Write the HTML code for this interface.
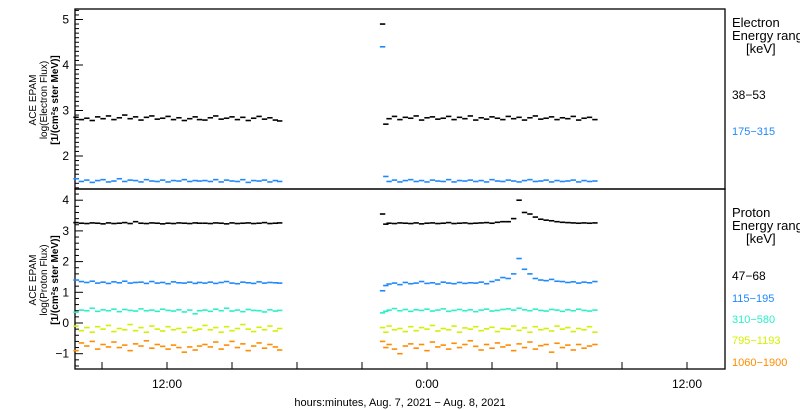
<!DOCTYPE html>
<html><head><meta charset="utf-8"><style>
body{margin:0;background:#fff;width:800px;height:410px;overflow:hidden}
svg{display:block;font-family:"Liberation Sans",sans-serif}
</style></head><body>
<svg id="chart" width="800" height="410"></svg>
<script>
const times=[7.8,8.05,8.3,8.55,8.8,9.05,9.3,9.55,9.8,10.05,10.3,10.55,10.8,11.05,11.3,11.55,11.8,12.05,12.3,12.55,12.8,13.05,13.3,13.5,
13.75,14,14.25,14.5,14.75,15,15.25,15.5,15.75,16,16.25,16.5,16.75,17,17.2,
21.95,22.1,22.25,22.5,22.75,23,23.25,23.5,23.75,24,24.25,24.5,24.75,25,25.25,25.5,25.75,26,26.25,26.5,26.75,27,27.25,27.5,27.75,28,28.25,28.5,28.75,29,29.25,29.5,29.75,30,30.25,30.5,30.75,31,31.25,31.5,31.75];
const e38=[2.85,2.8,2.83,2.78,2.86,2.82,2.88,2.8,2.84,2.9,2.82,2.86,2.79,2.85,2.88,2.81,2.83,2.87,2.8,2.84,2.78,2.82,2.86,2.8,
2.79,2.84,2.88,2.81,2.83,2.86,2.8,2.85,2.78,2.83,2.87,2.81,2.84,2.79,2.77,
4.9,2.7,2.82,2.87,2.8,2.85,2.83,2.88,2.79,2.84,2.86,2.81,2.83,2.87,2.8,2.85,2.82,2.88,2.79,2.84,2.81,2.86,2.83,2.8,2.87,2.82,2.85,2.79,2.84,2.88,2.81,2.83,2.86,2.8,2.84,2.82,2.87,2.79,2.83,2.85,2.8];
const e175=[1.5,1.44,1.47,1.42,1.46,1.48,1.43,1.45,1.5,1.44,1.47,1.46,1.43,1.48,1.45,1.44,1.47,1.43,1.46,1.45,1.48,1.44,1.46,1.45,
1.46,1.44,1.48,1.43,1.47,1.45,1.44,1.48,1.42,1.46,1.45,1.47,1.43,1.46,1.44,
4.4,1.55,1.44,1.47,1.43,1.46,1.48,1.44,1.46,1.43,1.47,1.45,1.44,1.48,1.43,1.46,1.45,1.47,1.44,1.46,1.43,1.48,1.45,1.44,1.47,1.45,1.43,1.46,1.48,1.44,1.45,1.47,1.43,1.46,1.44,1.45,1.47,1.43,1.46,1.44,1.45];
const p47=[3.27,3.25,3.24,3.26,3.25,3.23,3.26,3.24,3.25,3.27,3.24,3.3,3.25,3.24,3.26,3.25,3.23,3.25,3.24,3.26,3.25,3.24,3.26,3.25,
3.25,3.24,3.26,3.25,3.23,3.26,3.24,3.25,3.26,3.24,3.25,3.27,3.24,3.25,3.26,
3.55,3.22,3.25,3.24,3.26,3.25,3.24,3.26,3.23,3.25,3.26,3.24,3.25,3.27,3.24,3.25,3.26,3.24,3.25,3.26,3.27,3.25,3.28,3.3,3.3,3.4,4.0,3.6,3.55,3.45,3.38,3.35,3.33,3.3,3.28,3.27,3.26,3.25,3.26,3.25,3.26];
const p115=[1.4,1.35,1.32,1.36,1.3,1.33,1.29,1.34,1.31,1.36,1.3,1.32,1.33,1.29,1.35,1.3,1.32,1.28,1.34,1.31,1.3,1.33,1.29,1.32,
1.3,1.33,1.29,1.32,1.35,1.3,1.28,1.33,1.31,1.29,1.34,1.3,1.32,1.31,1.3,
1.05,1.22,1.27,1.3,1.25,1.32,1.28,1.3,1.35,1.29,1.31,1.27,1.33,1.3,1.28,1.32,1.29,1.31,1.3,1.33,1.28,1.35,1.4,1.48,1.45,1.6,2.1,1.75,1.6,1.45,1.4,1.38,1.42,1.36,1.35,1.32,1.34,1.3,1.33,1.31,1.35];
const p310=[0.35,0.42,0.4,0.48,0.38,0.43,0.4,0.45,0.37,0.44,0.41,0.39,0.46,0.4,0.42,0.38,0.45,0.41,0.39,0.43,0.36,0.42,0.3,0.4,
0.42,0.38,0.45,0.4,0.48,0.39,0.42,0.37,0.44,0.41,0.4,0.36,0.43,0.39,0.41,
0.33,0.38,0.42,0.47,0.4,0.44,0.38,0.43,0.41,0.45,0.39,0.42,0.46,0.38,0.41,0.44,0.4,0.43,0.37,0.42,0.45,0.39,0.41,0.44,0.46,0.42,0.48,0.43,0.4,0.45,0.41,0.39,0.44,0.42,0.38,0.43,0.4,0.45,0.41,0.39,0.42];
const p795=[-0.1,-0.25,-0.15,-0.3,-0.12,-0.2,-0.08,-0.28,-0.18,-0.22,-0.05,-0.25,-0.15,-0.3,-0.1,-0.2,-0.26,-0.12,-0.22,-0.18,-0.3,-0.15,-0.24,-0.2,
-0.08,-0.22,-0.15,-0.3,-0.12,-0.25,-0.18,-0.05,-0.2,-0.28,-0.14,-0.22,-0.1,-0.26,-0.18,
-0.15,-0.3,-0.1,-0.22,-0.18,-0.28,-0.12,-0.25,-0.15,-0.2,-0.08,-0.26,-0.18,-0.22,-0.1,-0.3,-0.16,-0.2,-0.12,-0.25,-0.19,-0.14,-0.28,-0.18,-0.2,-0.1,-0.24,-0.16,-0.3,-0.12,-0.22,-0.18,-0.26,-0.1,-0.2,-0.15,-0.28,-0.18,-0.22,-0.12,-0.3];
const p1060=[-0.9,-0.65,-0.75,-0.6,-0.85,-0.7,-0.78,-0.62,-0.8,-0.72,-0.9,-0.68,-0.75,-0.58,-0.82,-0.7,-0.76,-0.85,-0.72,-0.8,-0.95,-0.78,-0.88,-0.75,
-0.7,-0.78,-0.62,-0.85,-0.72,-0.6,-0.8,-0.68,-0.9,-0.75,-0.65,-0.82,-0.7,-0.78,-0.88,
-0.6,-0.8,-0.7,-0.85,-1.0,-0.75,-0.68,-0.82,-0.7,-0.9,-0.62,-0.78,-0.72,-0.85,-0.66,-0.8,-0.7,-0.58,-0.76,-0.88,-0.7,-0.82,-0.65,-0.78,-0.72,-0.9,-0.68,-0.8,-0.62,-0.85,-0.74,-0.7,-0.95,-0.66,-0.8,-0.72,-0.88,-0.7,-0.82,-0.75,-0.7];
const xTickHours=[9,12,15,18,21,24,27,30,33,36];
const xTickLabels={12:"12:00",24:"0:00",36:"12:00"};
const topTicks=[2,3,4,5];
const botTicks=[-1,0,1,2,3,4];

const NS="http://www.w3.org/2000/svg";
const svg=document.getElementById('chart');
const L=75,R=725;
const xS=h=>167+(h-12)*(260/12);
const yTop=v=>156-(v-2)*45.5;
const yBot=v=>323-v*30.7;
function mk(t,a,p){const e=document.createElementNS(NS,t);for(const k in a)e.setAttribute(k,a[k]);(p||svg).appendChild(e);return e;}
function txt(x,y,s,opt){const e=mk('text',Object.assign({x:x,y:y,'font-size':12,fill:'#000'},opt||{}));e.textContent=s;return e;}

const f1=mk('rect',{x:L,y:9,width:R-L,height:180,fill:'none',stroke:'#000','stroke-width':1.3});


const f2=mk('rect',{x:L,y:189,width:R-L,height:180,fill:'none',stroke:'#000','stroke-width':1.3});



for(let v=1.3;v<=5.25;v+=0.1){const y=yTop(v);if(y<9||y>189)continue;const maj=Math.abs(v-Math.round(v))<0.01;
 mk('line',{x1:L,x2:L+(maj?8:4),y1:y,y2:y,stroke:'#000'});}
topTicks.forEach(v=>{const t=txt(69,yTop(v)+4,String(v),{'text-anchor':'end'});
 
 });
for(let v=-1.4;v<=4.4;v+=0.2){const y=yBot(v);if(y<189||y>369)continue;const maj=Math.abs(v-Math.round(v))<0.01;
 mk('line',{x1:L,x2:L+(maj?8:4),y1:y,y2:y,stroke:'#000'});}
botTicks.forEach(v=>{const t=txt(69,yBot(v)+4,v<0?'\u2212'+(-v):String(v),{'text-anchor':'end'});
 
 });
xTickHours.forEach(h=>{const x=xS(h);if(x<L||x>R)return;mk('line',{x1:x,x2:x,y1:369,y2:362,stroke:'#000'});
 if(xTickLabels[h]){const t=txt(x,388,xTickLabels[h],{'text-anchor':'middle'});
 
 }});
const xt=txt(400,406,'hours:minutes, Aug.  7, 2021 \u2212 Aug.  8, 2021',{'text-anchor':'middle','font-size':11,'xml:space':'preserve'});



function ytitle(cx,cy,lines,name){const g=mk('g',{transform:`translate(${cx},${cy}) rotate(-90)`});
 
 
 lines.forEach((s,i)=>{mk('text',{x:0,y:i*11,'text-anchor':'middle','font-size':10,'font-weight':i==2?'bold':'normal'},g).textContent=s;});}
ytitle(36,100,['ACE EPAM','log(Electron Flux)','[1/(cm\u00b2s ster MeV)]'],'electron-y-title');
ytitle(36,280,['ACE EPAM','log(Proton Flux)','[1/(cm\u00b2s ster MeV)]'],'proton-y-title');

function series(vals,yf,color,name){const g=mk('g',{fill:color});
 
 
 vals.forEach((v,i)=>{if(i>=times.length)return;mk('rect',{x:xS(times[i])-2.7,y:yf(v)-0.8,width:5.4,height:1.6},g);});}
series(e38,yTop,'#000','electron-38-53-series');
series(e175,yTop,'#1e88ff','electron-175-315-series');
series(p47,yBot,'#000','proton-47-68-series');
series(p115,yBot,'#1e88ff','proton-115-195-series');
series(p310,yBot,'#2af0c8','proton-310-580-series');
series(p795,yBot,'#d4f000','proton-795-1193-series');
series(p1060,yBot,'#ff8c00','proton-1060-1900-series');

function leg(x,y,s,c,name,fs){const t=txt(x,y,s,{fill:c,'font-size':fs||11});
 
 }
leg(732,27,'Electron','#000','electron-legend-title',13);
leg(732,40,'Energy ranges','#000','electron-legend-subtitle',13);
leg(746,53,'[keV]','#000','electron-legend-unit',13);
leg(732,99,'38\u221253','#000','legend-38-53',12);
leg(732,135,'175\u2212315','#1e88ff','legend-175-315');
leg(732,217,'Proton','#000','proton-legend-title',13);
leg(732,230,'Energy ranges','#000','proton-legend-subtitle',13);
leg(746,243,'[keV]','#000','proton-legend-unit',13);
leg(732,280,'47\u221268','#000','legend-47-68',12);
leg(732,302,'115\u2212195','#1e88ff','legend-115-195');
leg(732,323,'310\u2212580','#2af0c8','legend-310-580');
leg(732,344,'795\u22121193','#d4f000','legend-795-1193');
leg(732,366,'1060\u22121900','#ff8c00','legend-1060-1900');
</script>
</body></html>
